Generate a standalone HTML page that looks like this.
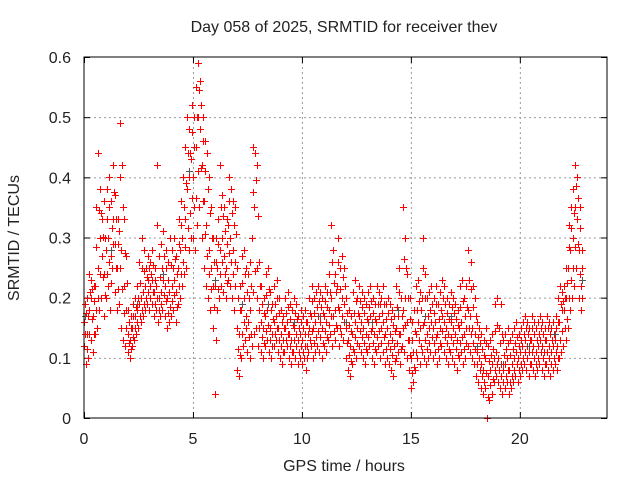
<!DOCTYPE html>
<html><head><meta charset="utf-8"><style>
body{margin:0;background:#fff;width:640px;height:480px;overflow:hidden}
svg{font-family:"Liberation Sans",sans-serif}
</style></head><body>
<svg id="chart" width="640" height="480">
<rect x="0" y="0" width="640" height="480" fill="#fff"/>
<g id="grid"></g>
<g id="ticks"></g>
<g id="marks"></g>
<rect x="84" y="57" width="523" height="361" fill="none" stroke="#000" stroke-width="1"/>
<text x="344" y="32" font-size="16" text-anchor="middle" fill="#222">Day 058 of 2025, SRMTID for receiver thev</text>
<text x="344" y="471" font-size="16" text-anchor="middle" fill="#222">GPS time / hours</text>
<text x="0" y="0" font-size="16" text-anchor="middle" fill="#222" transform="translate(19,238) rotate(-90)">SRMTID / TECUs</text>
</svg>
<script>
const xTicks=[0,5,10,15,20];
const yTicks=[0,0.1,0.2,0.3,0.4,0.5,0.6];
const yTickLabels=["0","0.1","0.2","0.3","0.4","0.5","0.6"];
const lo=[.12,.09,.10,.13,.11,.14,.15,.18,.20,.17,
.20,.22,.18,.25,.21,.18,.19,.15,.13,.12,
.11,.10,.12,.13,.14,.15,.16,.17,.18,.19,
.18,.19,.17,.18,.16,.17,.18,.17,.15,.16,
.17,.18,.16,.19,.20,.22,.24,.25,.28,.30,
.30,.28,.32,.35,.30,.25,.22,.20,.18,.15,
.04,.18,.20,.22,.21,.20,.23,.22,.20,.18,
.08,.07,.10,.12,.13,.11,.10,.12,.14,.15,
.12,.11,.10,.12,.13,.11,.10,.12,.13,.11,
.10,.09,.11,.12,.10,.09,.11,.10,.09,.10,
.09,.10,.08,.11,.12,.10,.11,.12,.11,.10,
.12,.11,.13,.14,.12,.13,.15,.12,.14,.13,
.10,.08,.07,.09,.11,.10,.12,.11,.10,.09,
.11,.12,.10,.09,.11,.12,.10,.11,.09,.10,
.09,.08,.07,.10,.11,.09,.12,.11,.10,.08,
.05,.06,.08,.10,.09,.11,.10,.09,.10,.11,
.10,.11,.09,.10,.12,.11,.10,.09,.11,.10,
.09,.08,.10,.11,.09,.10,.12,.11,.10,.09,
.07,.06,.05,.04,.05,.00,.03,.04,.06,.07,
.06,.05,.04,.05,.06,.04,.05,.06,.07,.06,
.07,.08,.09,.08,.07,.09,.08,.07,.08,.09,
.08,.07,.09,.08,.07,.08,.09,.08,.10,.11,
.12,.13,.15,.18,.20,.22,.25,.20,.18];
const mid=[.16,.14,.18,.20,.17,.22,.25,.30,.27,.24,
.28,.30,.27,.33,.29,.25,.31,.28,.22,.18,
.14,.13,.15,.17,.18,.19,.20,.21,.22,.23,
.22,.23,.21,.22,.20,.21,.23,.22,.20,.21,
.22,.23,.21,.25,.28,.30,.33,.38,.40,.43,
.40,.45,.50,.48,.42,.36,.32,.28,.25,.22,
.22,.25,.28,.30,.27,.25,.32,.30,.28,.26,
.15,.14,.18,.20,.17,.16,.18,.30,.35,.25,
.18,.16,.15,.17,.18,.15,.14,.16,.17,.15,
.14,.13,.15,.16,.14,.13,.15,.14,.13,.14,
.13,.14,.12,.15,.17,.15,.16,.17,.16,.15,
.17,.16,.18,.20,.17,.18,.22,.18,.20,.19,
.15,.13,.12,.14,.16,.15,.17,.16,.15,.14,
.16,.17,.15,.14,.16,.17,.15,.16,.14,.15,
.14,.13,.12,.15,.17,.14,.18,.20,.16,.13,
.10,.11,.14,.16,.15,.20,.16,.14,.15,.16,
.15,.16,.14,.15,.17,.16,.15,.14,.16,.15,
.14,.13,.15,.16,.14,.15,.18,.17,.15,.14,
.11,.10,.09,.08,.10,.07,.08,.09,.10,.11,
.10,.09,.08,.09,.10,.08,.09,.10,.11,.10,
.11,.12,.13,.12,.11,.13,.12,.11,.12,.13,
.12,.11,.13,.12,.11,.12,.13,.12,.16,.18,
.18,.20,.25,.28,.30,.35,.33,.28,.22];
const hi=[.19,.20,.24,.23,.22,.35,.44,.38,.33,.36,
.38,.40,.36,.42,.37,.33,.49,.42,.33,.27,
.18,.17,.19,.20,.22,.26,.30,.28,.25,.27,
.26,.28,.25,.42,.27,.29,.31,.28,.26,.30,
.28,.30,.27,.33,.36,.40,.45,.50,.48,.52,
.50,.55,.59,.56,.50,.46,.44,.40,.35,.30,
.30,.33,.42,.37,.35,.33,.40,.38,.36,.35,
.25,.22,.27,.28,.25,.24,.26,.45,.44,.42,
.26,.22,.20,.24,.25,.21,.19,.22,.23,.20,
.18,.17,.20,.21,.19,.18,.20,.19,.17,.18,
.17,.18,.16,.20,.22,.20,.21,.22,.21,.20,
.22,.21,.24,.32,.28,.24,.30,.25,.27,.25,
.20,.18,.17,.21,.23,.20,.22,.21,.20,.19,
.21,.22,.20,.19,.22,.21,.20,.22,.19,.20,
.19,.18,.17,.22,.25,.20,.35,.30,.24,.20,
.16,.18,.22,.23,.21,.30,.24,.20,.21,.22,
.20,.22,.19,.21,.23,.22,.20,.19,.21,.20,
.19,.18,.22,.23,.20,.22,.28,.26,.22,.20,
.16,.15,.14,.13,.15,.12,.13,.14,.19,.20,
.15,.19,.13,.14,.15,.13,.14,.15,.16,.14,
.15,.16,.17,.16,.15,.17,.16,.15,.16,.17,
.16,.15,.17,.16,.15,.16,.17,.20,.22,.21,
.22,.25,.32,.35,.38,.42,.40,.35,.28];
const x0=84,x1=607,y0=418,y1=57,xMax=24,yMax=0.6;
const X=h=>x0+(x1-x0)*h/xMax;
const Y=v=>y0-(y0-y1)*v/yMax;
const NS="http://www.w3.org/2000/svg";
const grid=document.getElementById('grid'),ticks=document.getElementById('ticks'),marks=document.getElementById('marks');
function ln(p,a,b,c,d,st,dash){const l=document.createElementNS(NS,'line');l.setAttribute('x1',a);l.setAttribute('y1',b);l.setAttribute('x2',c);l.setAttribute('y2',d);l.setAttribute('stroke',st);if(dash)l.setAttribute('stroke-dasharray',dash);p.appendChild(l);return l;}
function tx(p,x,y,s,anc){const t=document.createElementNS(NS,'text');t.setAttribute('x',x);t.setAttribute('y',y);t.setAttribute('font-size','16');t.setAttribute('fill','#222');t.setAttribute('text-anchor',anc);t.textContent=s;p.appendChild(t);return t;}
xTicks.forEach(h=>{const x=X(h)+0.5;
 if(h>0){const g=ln(grid,x,y1,x,y0,'#999','2,3');
 
 }
 ln(ticks,x,y0,x,y0-6,'#000');ln(ticks,x,y1,x,y1+6,'#000');
 const t=tx(ticks,X(h),444,String(h),'middle');
 
 });
yTicks.forEach((v,i)=>{const y=Y(v)+0.5;
 if(v>0&&v<yMax){const g=ln(grid,x0,y,x1,y,'#999','2,3');
 
 }
 ln(ticks,x0,y,x0+6,y,'#000');ln(ticks,x1,y,x1-6,y,'#000');
 const t=tx(ticks,71,Y(v)+6,yTickLabels[i],'end');
 
 });
function plus(h,v,col){const x=Math.round(X(h))+0.5,y=Math.round(Y(v))+0.5;
 const p=document.createElementNS(NS,'path');
 p.setAttribute('d',`M${x-3.5} ${y}H${x+3.5}M${x} ${y-3.5}V${y+3.5}`);
 p.setAttribute('stroke',col);p.setAttribute('fill','none');
 
 
 marks.appendChild(p);}
for(let i=0;i<mid.length;i++){
 const t=i/10;
 if(i%12===0)plus(t+0.03,mid[i]+0.01,'#555');
 plus(t,lo[i],'#f00');
 plus(t+0.05,(lo[i]+mid[i])/2,'#f00');
 plus(t+0.02,mid[i],'#f00');
 plus(t+0.07,(mid[i]+hi[i])/2,'#f00');
 plus(t+0.04,hi[i],'#f00');
}
</script>
</body></html>
